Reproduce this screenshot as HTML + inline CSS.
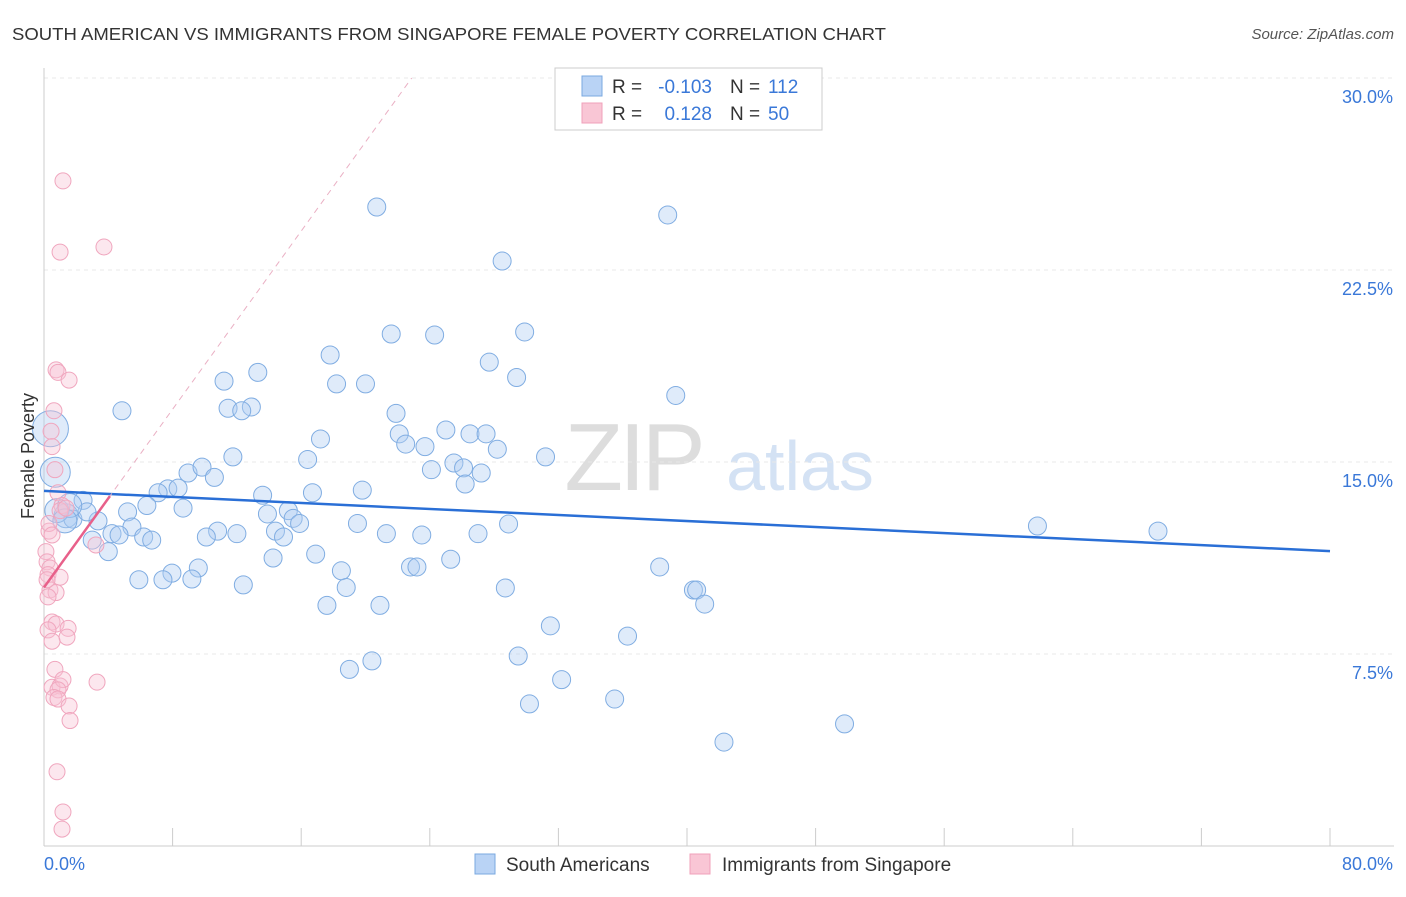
<!DOCTYPE html>
<html><head><meta charset="utf-8">
<style>
body{margin:0;background:#fff;font-family:"Liberation Sans",sans-serif;}
svg text{font-family:"Liberation Sans",sans-serif;}
</style></head>
<body>
<svg id="chart" width="1406" height="892" viewBox="0 0 1406 892" xmlns="http://www.w3.org/2000/svg">
<text x="12" y="40" font-size="17.5" fill="#333" textLength="874" lengthAdjust="spacingAndGlyphs">SOUTH AMERICAN VS IMMIGRANTS FROM SINGAPORE FEMALE POVERTY CORRELATION CHART</text>
<text x="1394" y="39" font-size="15" fill="#555" text-anchor="end" font-style="italic">Source: ZipAtlas.com</text>
<g>
<text x="633" y="490" font-size="96" fill="#ddd" text-anchor="middle" font-family="Liberation Serif" letter-spacing="-4">ZIP</text>
<text x="800" y="490" font-size="70" fill="#d4e2f4" text-anchor="middle">atlas</text>
</g>
<g id="grid"></g>
<g id="axes"></g>
<g id="marks"></g>
<g>
<rect x="555" y="68" width="267" height="62" fill="#fff" stroke="#ccc"/>
<rect x="582" y="76" width="20" height="20" fill="#b9d3f5" stroke="#7aa8e0"/>
<rect x="582" y="103" width="20" height="20" fill="#f9c6d5" stroke="#f0a0ba"/>
<text x="612" y="93" font-size="19" fill="#333">R =</text>
<text x="712" y="93" font-size="19" fill="#3a78d8" text-anchor="end">-0.103</text>
<text x="730" y="93" font-size="19" fill="#333">N =</text>
<text x="768" y="93" font-size="19" fill="#3a78d8">112</text>
<text x="612" y="120" font-size="19" fill="#333">R =</text>
<text x="712" y="120" font-size="19" fill="#3a78d8" text-anchor="end">0.128</text>
<text x="730" y="120" font-size="19" fill="#333">N =</text>
<text x="768" y="120" font-size="19" fill="#3a78d8">50</text>
</g>
<g>
<rect x="475" y="854" width="20" height="20" fill="#b9d3f5" stroke="#7aa8e0"/>
<text x="506" y="871" font-size="19" fill="#333">South Americans</text>
<rect x="690" y="854" width="20" height="20" fill="#f9c6d5" stroke="#f0a0ba"/>
<text x="722" y="871" font-size="19" fill="#333">Immigrants from Singapore</text>
</g>
<text transform="translate(34,456) rotate(-90)" font-size="18" fill="#333" text-anchor="middle">Female Poverty</text>
</svg>
<script>
const blueX=[20.7,38.8,28.5,21.6,24.3,29.9,17.8,27.7,13.3,11.2,18.2,20.0,29.4,39.3,4.85,11.45,12.9,12.3,21.9,22.1,25.0,26.5,27.5,17.2,22.5,23.7,28.2,11.75,31.2,16.4,25.5,26.1,24.1,27.2,8.96,9.83,10.6,26.2,7.7,8.34,7.1,19.8,16.7,13.6,2.43,6.4,8.65,15.2,5.2,13.9,15.5,15.9,19.5,28.9,1.37,1.8,3.36,2.67,0.8,61.8,69.3,5.47,10.8,12.0,21.3,23.5,27.0,14.4,14.9,4.23,4.67,6.2,6.7,10.1,3.0,4.0,16.9,14.25,25.3,22.8,23.2,18.5,9.6,7.96,38.3,5.9,7.4,9.2,12.4,18.8,28.7,40.4,40.6,17.6,20.9,41.1,31.5,36.3,29.5,20.4,19.0,32.2,35.5,30.2,49.8,42.3,1.6,1.3,0.7,0.4];
const blueY=[24.96,24.65,22.85,20.0,19.96,20.08,19.18,18.9,18.5,18.16,18.05,18.05,18.3,17.6,17.0,17.1,17.15,17.0,16.9,16.1,16.25,16.1,16.1,15.9,15.7,15.6,15.5,15.2,15.2,15.1,14.96,14.77,14.7,14.57,14.57,14.8,14.4,14.14,13.95,13.98,13.8,13.9,13.8,13.7,13.5,13.3,13.2,13.1,13.05,12.97,12.8,12.6,12.6,12.58,12.9,12.77,12.7,13.05,13.1,12.5,12.3,12.46,12.3,12.2,12.2,12.15,12.2,12.3,12.07,12.2,12.15,12.07,11.95,12.07,11.95,11.5,11.4,11.25,11.2,10.9,10.9,10.75,10.86,10.66,10.9,10.4,10.4,10.43,10.2,10.1,10.08,10.0,10.0,9.4,9.4,9.45,8.6,8.2,7.42,7.23,6.9,6.5,5.74,5.55,4.77,4.06,13.3,12.7,14.6,16.3];
const blueSize=[9,9,9,9,9,9,9,9,9,9,9,9,9,9,9,9,9,9,9,9,9,9,9,9,9,9,9,9,9,9,9,9,9,9,9,9,9,9,9,9,9,9,9,9,9,9,9,9,9,9,9,9,9,9,12,9,9,9,12,9,9,9,9,9,9,9,9,9,9,9,9,9,9,9,9,9,9,9,9,9,9,9,9,9,9,9,9,9,9,9,9,9,9,9,9,9,9,9,9,9,9,9,9,9,9,9,12,12,15,18];
const pinkX=[1.18,3.73,1.0,0.75,0.87,1.56,0.62,0.44,0.5,0.68,0.87,1.12,1.0,1.37,0.31,3.23,0.12,0.19,0.37,0.25,1.0,0.37,0.75,0.25,0.5,0.75,1.5,0.25,1.43,0.5,0.68,3.3,0.5,1.0,1.18,0.87,0.62,0.87,1.56,1.62,0.81,1.18,1.12,0.31,0.5,0.19];
const pinkY=[25.98,23.4,23.2,18.6,18.5,18.2,17.0,16.2,15.6,14.7,13.8,13.3,13.1,13.2,12.3,11.76,11.5,11.1,10.86,10.6,10.5,10.0,9.9,9.73,8.75,8.67,8.5,8.44,8.16,8.0,6.9,6.4,6.2,6.25,6.5,6.1,5.8,5.74,5.47,4.9,2.9,1.33,0.66,12.6,12.15,10.4];
const blueTrend=[13.87,11.52];
const pinkTrend=[10.1,0.87];
const pinkSolidEnd=4.1;
const xTicks=["0.0%","80.0%"];
const yTicks=[7.5,15.0,22.5,30.0];
const yTickLabels=["7.5%","15.0%","22.5%","30.0%"];

const X0=44,X1=1330,Y0=846,Y1=78;
const sx=v=>X0+(v/80)*(X1-X0);
const sy=v=>Y0-(v/30)*(Y0-Y1);
const NS="http://www.w3.org/2000/svg";
function mk(tag,attrs,parent){const e=document.createElementNS(NS,tag);for(const k in attrs)e.setAttribute(k,attrs[k]);parent.appendChild(e);return e;}
const grid=document.getElementById('grid'),axes=document.getElementById('axes'),marks=document.getElementById('marks');
yTicks.forEach((t,i)=>{
 const l=mk('line',{x1:X0,x2:1394,y1:sy(t),y2:sy(t),stroke:'#e8e8e8','stroke-dasharray':'4,4'},grid);
 
 
 const tx=mk('text',{x:1393,y:sy(t)+25,'font-size':18,fill:'#3a78d8','text-anchor':'end'},axes);
 tx.textContent=yTickLabels[i];
 
 
});
const ya=mk('line',{x1:X0,x2:X0,y1:68,y2:Y0,stroke:'#ccc'},axes);


const xa=mk('line',{x1:X0,x2:1394,y1:Y0,y2:Y0,stroke:'#ccc'},axes);


for(let i=0;i<=10;i++){
 const t=mk('line',{x1:sx(i*8),x2:sx(i*8),y1:828,y2:Y0,stroke:'#ccc'},axes);
 
 
}
[[0,'start',44],[80,'end',1393]].forEach((d,i)=>{
 const tx=mk('text',{x:d[2],y:870,'font-size':18,fill:'#3a78d8','text-anchor':d[1]},axes);
 tx.textContent=xTicks[i];
 
 
});
blueX.forEach((v,i)=>{
 const c=mk('circle',{cx:sx(v),cy:sy(blueY[i]),r:blueSize[i],fill:'rgba(175,205,242,0.4)',stroke:'#80ade2','stroke-width':1},marks);
 
 
});
pinkX.forEach((v,i)=>{
 const c=mk('circle',{cx:sx(v),cy:sy(pinkY[i]),r:8,fill:'rgba(248,195,212,0.4)',stroke:'#f0a6be','stroke-width':1},marks);
 
 
});
const bt=mk('line',{x1:sx(0),y1:sy(blueTrend[0]),x2:sx(80),y2:sy(blueTrend[1]),stroke:'#2a6fd6','stroke-width':2.5},marks);


const xEnd=(30-pinkTrend[0])/pinkTrend[1];
const pd=mk('line',{x1:sx(0),y1:sy(pinkTrend[0]),x2:sx(xEnd),y2:sy(30),stroke:'#eab0c4','stroke-width':1,'stroke-dasharray':'6,5'},marks);


const pt=mk('line',{x1:sx(0),y1:sy(pinkTrend[0]),x2:sx(pinkSolidEnd),y2:sy(pinkTrend[0]+pinkTrend[1]*pinkSolidEnd),stroke:'#e8608a','stroke-width':2.5},marks);


</script>
</body></html>
